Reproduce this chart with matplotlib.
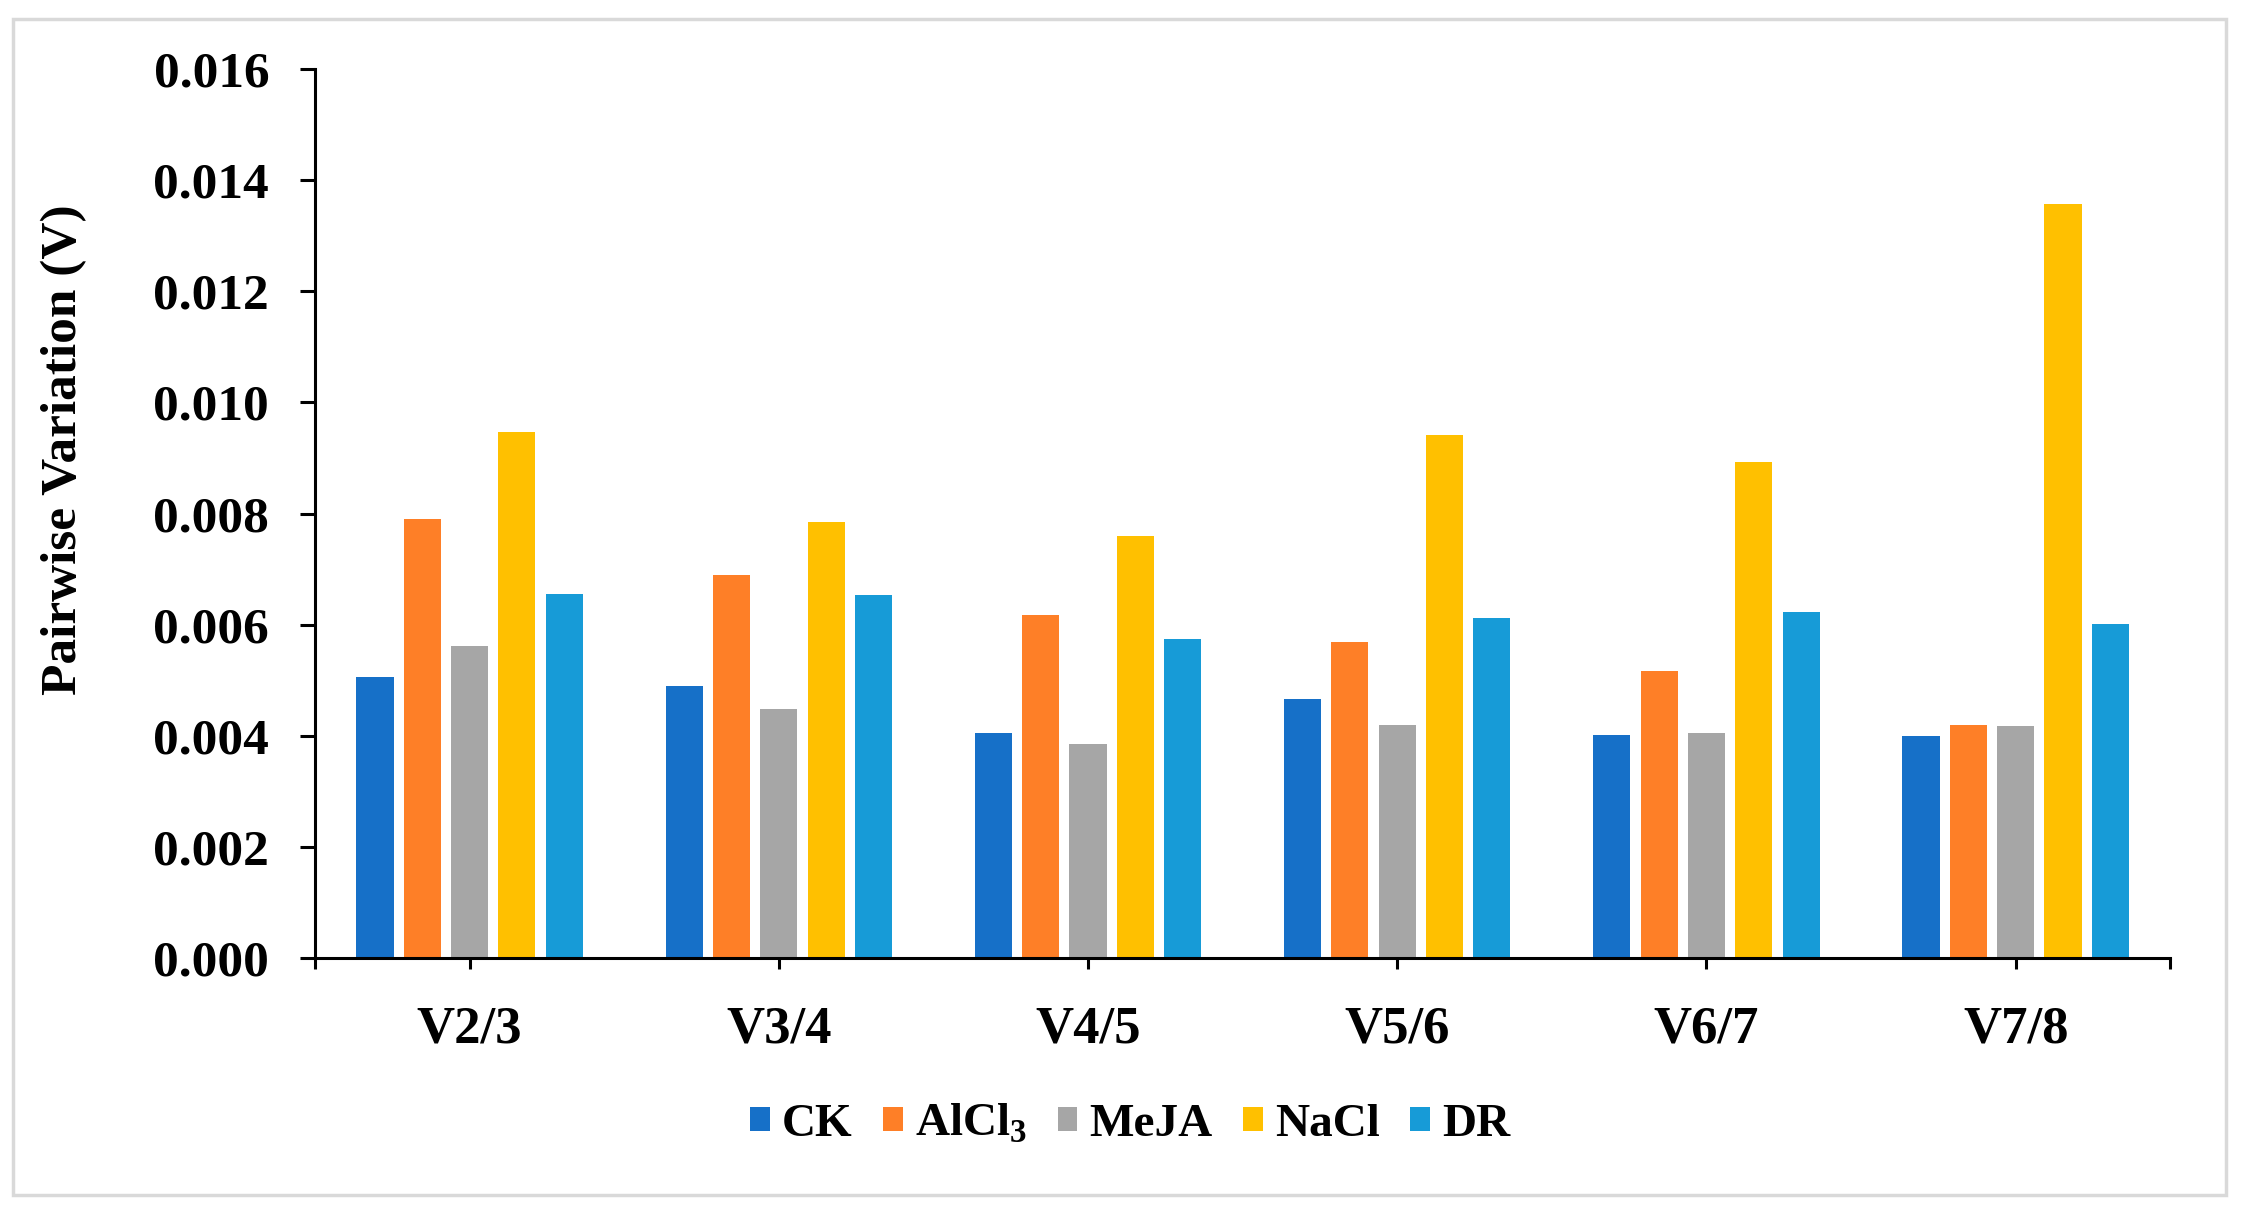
import matplotlib
matplotlib.use("Agg")
import matplotlib.pyplot as plt
import numpy as np
from matplotlib.patches import Rectangle

plt.rcParams['font.family'] = ['Liberation Serif', 'DejaVu Serif']
plt.rcParams['font.weight'] = 'bold'
plt.rcParams['mathtext.fontset'] = 'custom'
plt.rcParams['mathtext.rm'] = 'Liberation Serif:bold'
plt.rcParams['mathtext.bf'] = 'Liberation Serif:bold'

groups = ["V2/3", "V3/4", "V4/5", "V5/6", "V6/7", "V7/8"]
series = ["CK", "AlCl$_3$", "MeJA", "NaCl", "DR"]
ck = [0.00505, 0.00489, 0.00406, 0.00466, 0.00401, 0.00399]
alcl3 = [0.00790, 0.00689, 0.00617, 0.00569, 0.00517, 0.00420]
meja = [0.00561, 0.00448, 0.00386, 0.00419, 0.00406, 0.00417]
nacl = [0.00947, 0.00785, 0.00759, 0.00941, 0.00893, 0.01358]
dr = [0.00656, 0.00653, 0.00574, 0.00612, 0.00622, 0.00602]
colors = ['#1670c8', '#fe7f27', '#a6a6a6', '#ffc000', '#179bd7']

fig = plt.figure(figsize=(22.42, 12.12), dpi=100)
ax = fig.add_axes([0.1405, 0.2095, 0.8275, 0.7335])

x = np.arange(len(groups))
slot = 0.153
width = 0.12
for i, vals in enumerate([ck, alcl3, meja, nacl, dr]):
    ax.bar(x + (i - 2) * slot, vals, width, color=colors[i], label=series[i])

ax.set_xlim(-0.5, 5.5)
ax.set_ylim(0, 0.016)
ax.set_yticks(np.arange(0, 0.0161, 0.002))
ax.set_yticklabels(["%.3f" % v for v in np.arange(0, 0.0161, 0.002)])
ax.set_xticks(x)
ax.set_xticklabels(groups)
ax.set_xticks([-0.5, 5.5], minor=True)

for s in ['top', 'right']:
    ax.spines[s].set_visible(False)
for s in ['left', 'bottom']:
    ax.spines[s].set_linewidth(2.2)

ax.tick_params(axis='y', which='major', length=11, width=2.2, pad=22, labelsize=37)
ax.tick_params(axis='x', which='major', length=8, width=2.2, pad=26, labelsize=38)
ax.tick_params(axis='x', which='minor', length=8, width=2.2)

ax.set_ylabel("Pairwise Variation (V)", fontsize=37, fontweight='bold')
ax.yaxis.set_label_coords(-0.123, 0.572)

fig.legend(loc='center', bbox_to_anchor=(0.504, 0.0727), ncol=5, frameon=False,
           fontsize=34, handlelength=0.42, handleheight=0.42, handletextpad=0.25,
           columnspacing=0.65)

fig.patches.append(Rectangle((0.006, 0.014), 0.987, 0.97, transform=fig.transFigure,
                             fill=False, edgecolor='#d9d9d9', linewidth=2.5))

fig.savefig("out.png", dpi=100)
